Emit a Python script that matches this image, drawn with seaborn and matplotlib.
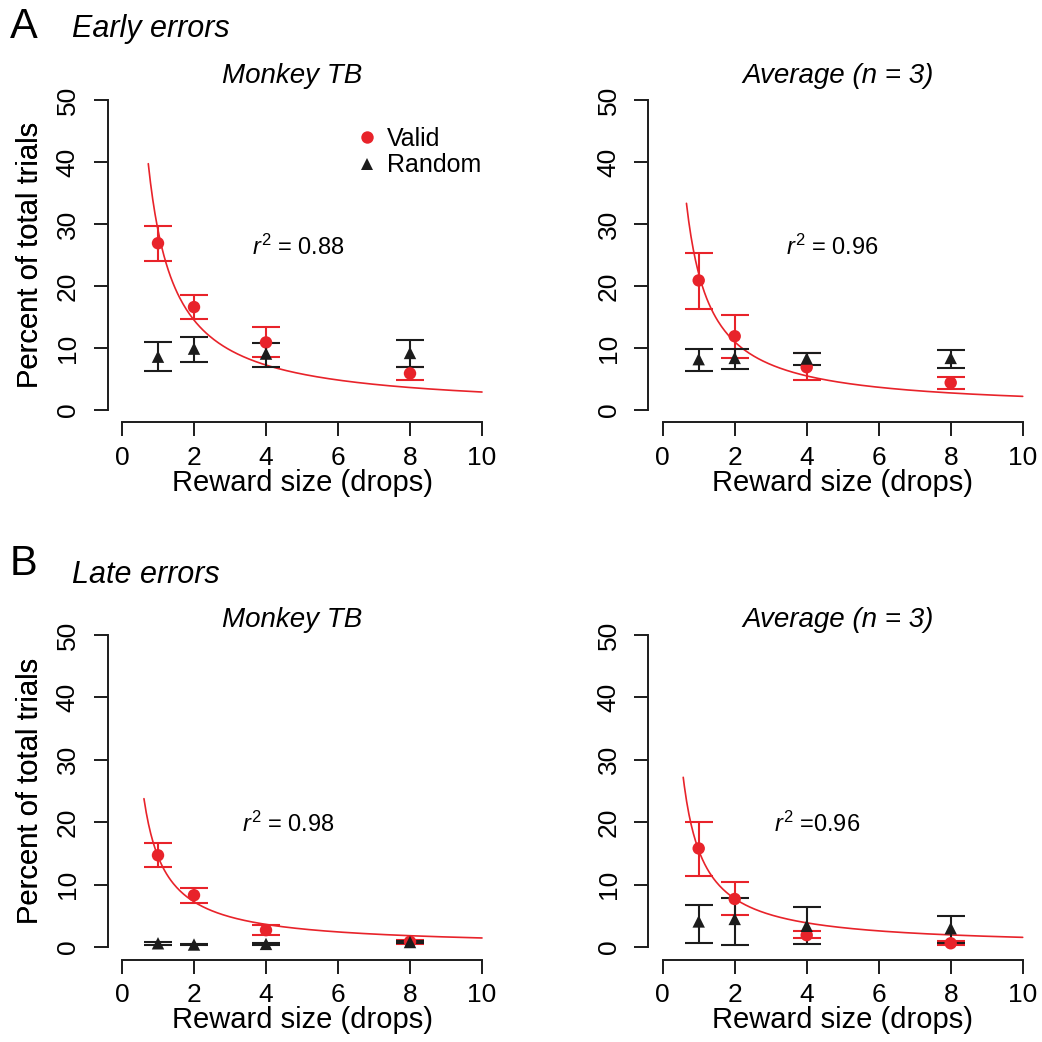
#%%
#  Importing Libraries

import numpy as np
import pandas as pd
import matplotlib
matplotlib.use('Agg')
import matplotlib.pyplot as plt
import seaborn as sns

#%%
#  Data

drops = [1, 2, 4, 8]

# early errors, monkey TB
early_tb_valid = [26.9, 16.6, 10.9, 5.9]
early_tb_valid_lo = [24.0, 14.6, 8.5, 4.9]
early_tb_valid_hi = [29.7, 18.6, 13.4, 7.0]
early_tb_random = [8.6, 9.9, 9.1, 9.2]
early_tb_random_lo = [6.3, 7.8, 7.0, 7.0]
early_tb_random_hi = [10.9, 11.7, 10.8, 11.3]

# early errors, average
early_avg_valid = [20.9, 11.9, 6.9, 4.4]
early_avg_valid_lo = [16.3, 8.4, 4.8, 3.4]
early_avg_valid_hi = [25.4, 15.3, 9.2, 5.3]
early_avg_random = [8.2, 8.4, 8.3, 8.4]
early_avg_random_lo = [6.3, 6.6, 7.2, 6.8]
early_avg_random_hi = [9.8, 9.8, 9.2, 9.7]

# late errors, monkey TB
late_tb_valid = [14.7, 8.3, 2.7, 0.85]
late_tb_valid_lo = [12.8, 7.1, 2.0, 0.5]
late_tb_valid_hi = [16.7, 9.4, 3.5, 1.2]
late_tb_random = [0.6, 0.4, 0.5, 0.8]
late_tb_random_lo = [0.4, 0.3, 0.3, 0.6]
late_tb_random_hi = [0.8, 0.5, 0.7, 1.0]

# late errors, average
late_avg_valid = [15.8, 7.7, 1.9, 0.6]
late_avg_valid_lo = [11.4, 5.1, 1.4, 0.4]
late_avg_valid_hi = [20.1, 10.4, 2.6, 0.9]
late_avg_random = [4.1, 4.5, 3.4, 3.0]
late_avg_random_lo = [0.7, 0.3, 0.5, 0.6]
late_avg_random_hi = [6.7, 7.9, 6.4, 4.9]

# hyperbolic fits y = a / x
fit_a = [29.0, 22.0, 14.5, 15.5]
fit_start = [0.73, 0.66, 0.61, 0.57]
r2_labels = ['$r^2$ = 0.88', '$r^2$ = 0.96', '$r^2$ = 0.98', '$r^2$ =0.96']
panel_titles = ['Monkey TB', 'Average (n = 3)', 'Monkey TB', 'Average (n = 3)']

#%%
#  Plotting

sns.set_style('ticks')
plt.rcParams['font.family'] = ['Liberation Sans', 'DejaVu Sans']
plt.rcParams['mathtext.fontset'] = 'custom'
plt.rcParams['mathtext.it'] = 'Liberation Sans:italic'
plt.rcParams['mathtext.rm'] = 'Liberation Sans'
plt.rcParams['text.color'] = 'black'
plt.rcParams['axes.labelcolor'] = 'black'
plt.rcParams['xtick.color'] = 'black'
plt.rcParams['ytick.color'] = 'black'

RED = '#e8232a'
BLACK = '#1c1c1c'

fig = plt.figure(figsize=(10.42, 10.42), dpi=100)
W = 1042.0

# axes rectangles in pixels: left, top, right, bottom
rects = [(107.6, 87.6, 496.4, 422.4), (648.3, 87.6, 1037.1, 422.4),
         (107.6, 622.5, 496.4, 959.5), (648.3, 622.5, 1037.1, 959.5)]

panels = [
    (early_tb_valid, early_tb_valid_lo, early_tb_valid_hi,
     early_tb_random, early_tb_random_lo, early_tb_random_hi),
    (early_avg_valid, early_avg_valid_lo, early_avg_valid_hi,
     early_avg_random, early_avg_random_lo, early_avg_random_hi),
    (late_tb_valid, late_tb_valid_lo, late_tb_valid_hi,
     late_tb_random, late_tb_random_lo, late_tb_random_hi),
    (late_avg_valid, late_avg_valid_lo, late_avg_valid_hi,
     late_avg_random, late_avg_random_lo, late_avg_random_hi),
]
r2_pos = [(3.6, 26.2), (3.42, 26.2), (3.33, 19.6), (3.08, 19.6)]
title_y = [83, 83, 627, 627]
title_x = [0.474, 0.488, 0.474, 0.488]

for i, (l, t, r, b) in enumerate(rects):
    ax = fig.add_axes([l / W, 1 - b / W, (r - l) / W, (b - t) / W])
    hpx = b - t
    wpx = r - l
    v, vlo, vhi, rd, rlo, rhi = panels[i]

    xs = np.linspace(fit_start[i], 10, 300)
    sns.lineplot(x=xs, y=fit_a[i] / xs, color=RED, lw=1.2, ax=ax)

    v = np.array(v); rd = np.array(rd)
    ax.errorbar(drops, v, yerr=[v - np.array(vlo), np.array(vhi) - v], fmt='none',
                ecolor=RED, elinewidth=1.5, capsize=10, capthick=1.5)
    ax.errorbar(drops, rd, yerr=[rd - np.array(rlo), np.array(rhi) - rd], fmt='none',
                ecolor=BLACK, elinewidth=1.5, capsize=10, capthick=1.5)

    df = pd.DataFrame({'drops': drops * 2,
                       'pct': list(v) + list(rd),
                       'cond': ['Valid'] * 4 + ['Random'] * 4})
    sns.scatterplot(data=df, x='drops', y='pct', hue='cond', style='cond',
                    palette={'Valid': RED, 'Random': BLACK},
                    markers={'Valid': 'o', 'Random': '^'},
                    s=80, linewidth=0, ax=ax, legend=(i == 0), zorder=5)

    ax.set_xlim(-0.4, 10.4)
    ax.set_ylim(-2, 52)
    ax.set_xticks([0, 2, 4, 6, 8, 10])
    ax.set_yticks([0, 10, 20, 30, 40, 50])
    ax.set_yticklabels(['0', '10', '20', '30', '40', '50'], rotation=90, va='center')
    for sp in ['top', 'right']:
        ax.spines[sp].set_visible(False)
    ax.spines['left'].set_bounds(0, 50)
    ax.spines['bottom'].set_bounds(0, 10)
    for sp in ['left', 'bottom']:
        ax.spines[sp].set_linewidth(1.4)
        ax.spines[sp].set_color(BLACK)
    ax.tick_params(axis='both', length=10, width=1.4, color=BLACK, labelsize=19,
                   labelcolor='black')
    ax.tick_params(axis='x', pad=7)
    ax.tick_params(axis='y', pad=10)

    ax.set_xlabel('Reward size (drops)', fontsize=21)
    ax.set_ylabel('Percent of total trials', fontsize=21)
    ax.xaxis.label.set_va('center')
    ax.yaxis.label.set_va('center')
    ax.xaxis.set_label_coords(0.5, -(483 - 422.4) / hpx)
    ax.yaxis.set_label_coords(-(l - 30) / wpx, 0.5)

    ax.text(title_x[i], 1 - (title_y[i] - t) / hpx, panel_titles[i], transform=ax.transAxes,
            ha='center', va='baseline', fontsize=20, style='italic')
    ax.text(r2_pos[i][0], r2_pos[i][1], r2_labels[i], ha='left', va='center', fontsize=17)

    if i == 0:
        leg = ax.legend(loc='upper left', bbox_to_anchor=((357 - l) / wpx, 1 - (127 - t) / hpx),
                        frameon=False, fontsize=18, handlelength=0.8, handletextpad=0.4,
                        borderpad=0, borderaxespad=0, labelspacing=0.1, markerscale=1.0)
        leg.set_title(None)

fig.text(10 / W, 1 - 38 / W, 'A', fontsize=30, va='baseline')
fig.text(72 / W, 1 - 37 / W, 'Early errors', fontsize=22, va='baseline', style='italic')
fig.text(10 / W, 1 - 575 / W, 'B', fontsize=30, va='baseline')
fig.text(72 / W, 1 - 583 / W, 'Late errors', fontsize=22, va='baseline', style='italic')

fig.savefig('out.png', dpi=100)
